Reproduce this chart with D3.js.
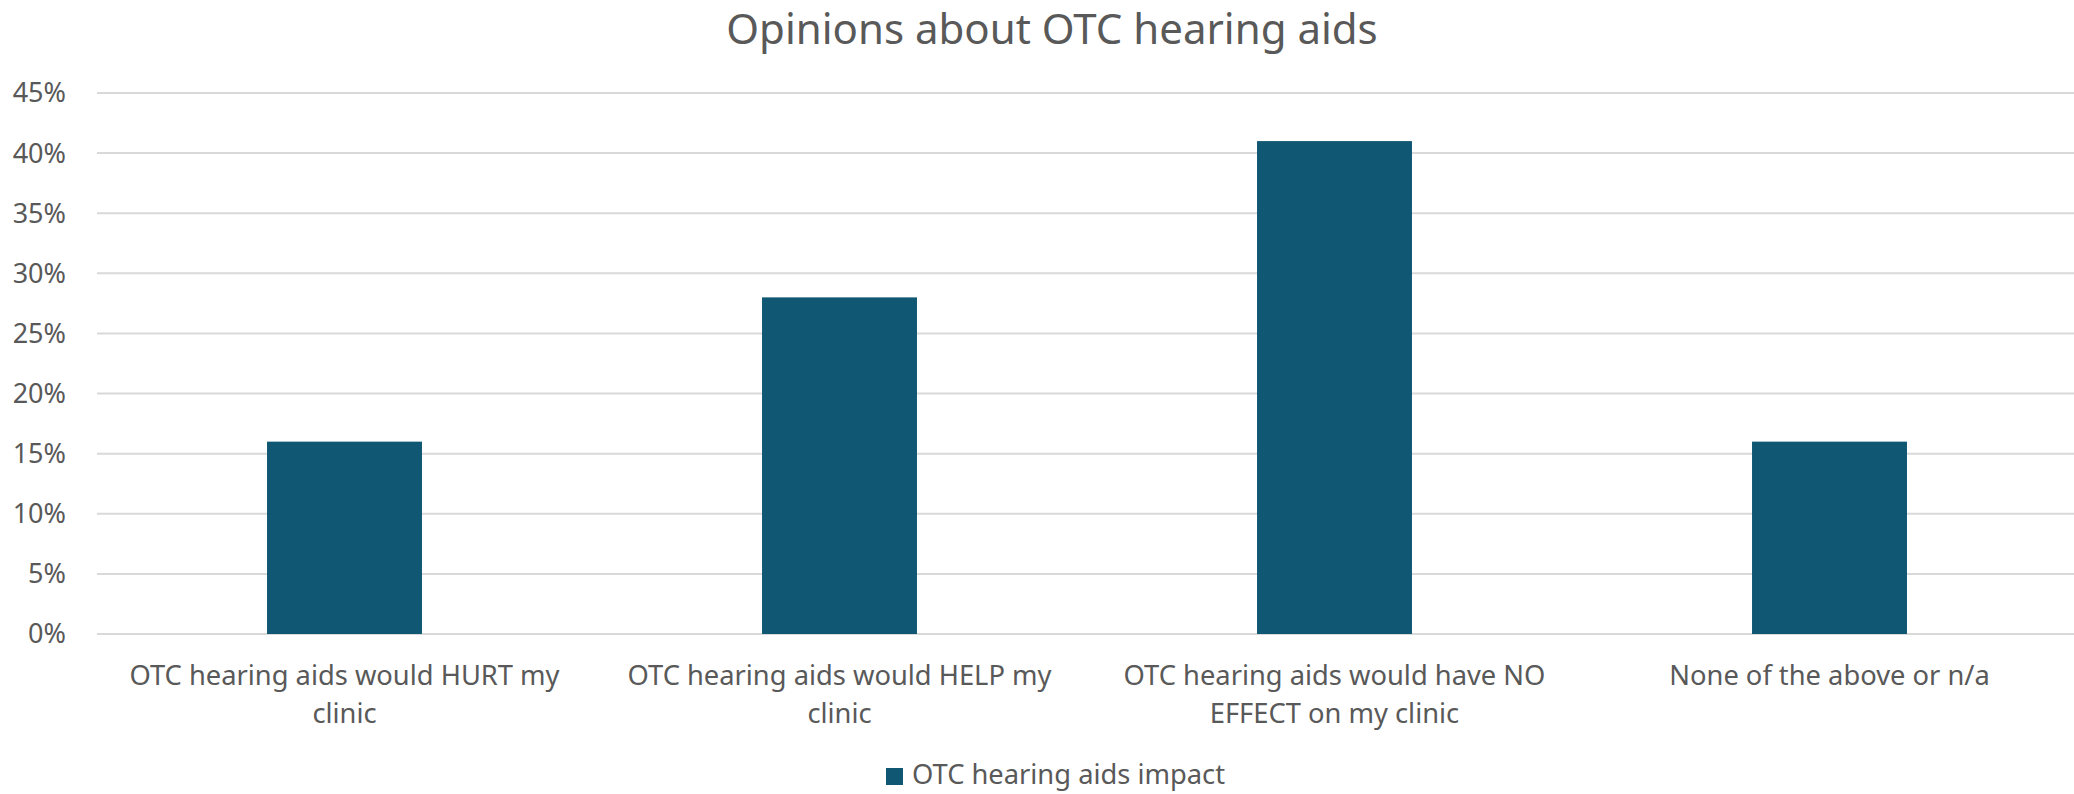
<!DOCTYPE html>
<html>
<head>
<meta charset="utf-8">
<script src="https://cdn.jsdelivr.net/npm/d3@7"></script>
<style>
  body { margin: 0; background: #fff; }
  text { font-family: "Noto Sans", sans-serif; fill: #595959; }
</style>
</head>
<body>
<div id="chart"></div>
<script>
// Chart data
const categories = [
    ["OTC hearing aids would HURT my", "clinic"],
    ["OTC hearing aids would HELP my", "clinic"],
    ["OTC hearing aids would have NO", "EFFECT on my clinic"],
    ["None of the above or n/a"]
];
const values = [0.16, 0.28, 0.41, 0.16];
const yTicks = [0, 0.05, 0.10, 0.15, 0.20, 0.25, 0.30, 0.35, 0.40, 0.45];
const seriesName = "OTC hearing aids impact";
const title = "Opinions about OTC hearing aids";

const W = 2074, H = 794;
const margin = {top: 93, right: -3, bottom: 160, left: 97},
      width = W - margin.left - margin.right,
      height = H - margin.top - margin.bottom;

const svg = d3.select("#chart")
    .append("svg")
    .attr("width", W)
    .attr("height", H);

const g = svg.append("g")
    .attr("transform", `translate(${margin.left},${margin.top})`);

const ids = categories.map((d, i) => i);

const x = d3.scaleBand()
    .domain(ids)
    .range([0, width])
    .paddingInner(0.687)
    .paddingOuter(0.3435);

const y = d3.scaleLinear()
    .domain([0, 0.45])
    .range([height, 0]);

// gridlines
g.append("g")
    .selectAll("line")
    .data(yTicks)
    .enter().append("line")
    .attr("x1", 0)
    .attr("x2", width)
    .attr("y1", d => y(d))
    .attr("y2", d => y(d))
    .attr("stroke", "#d9d9d9")
    .attr("stroke-width", 2);

// y labels
g.append("g")
    .selectAll("text")
    .data(yTicks)
    .enter().append("text")
    .attr("x", -31)
    .attr("y", d => y(d))
    .attr("dy", "0.35em")
    .attr("text-anchor", "end")
    .style("font-size", "27px")
    .text(d => d3.format(".0%")(d));

// bars
g.append("g")
    .selectAll("rect")
    .data(values)
    .enter().append("rect")
    .attr("x", (d, i) => x(i))
    .attr("y", d => y(d))
    .attr("width", x.bandwidth())
    .attr("height", d => height - y(d))
    .attr("fill", "#0f5772");

// x labels
const xl = g.append("g")
    .selectAll("text")
    .data(categories)
    .enter().append("text")
    .attr("x", (d, i) => x(i) + x.bandwidth() / 2)
    .attr("y", height + 51)
    .attr("text-anchor", "middle")
    .style("font-size", "27.3px");

xl.selectAll("tspan")
    .data(d => d)
    .enter().append("tspan")
    .attr("x", function() { return d3.select(this.parentNode).attr("x"); })
    .attr("dy", (d, i) => i === 0 ? 0 : 38)
    .text(d => d);

// title
svg.append("text")
    .attr("x", 1052)
    .attr("y", 44)
    .attr("text-anchor", "middle")
    .style("font-size", "42px")
    .text(title);

// legend
const legend = svg.append("g")
    .attr("transform", "translate(886,768)");

legend.append("rect")
    .attr("width", 17)
    .attr("height", 17)
    .attr("fill", "#0f5772");

legend.append("text")
    .attr("x", 26)
    .attr("y", 16)
    .style("font-size", "27.3px")
    .text(seriesName);
</script>
</body>
</html>
